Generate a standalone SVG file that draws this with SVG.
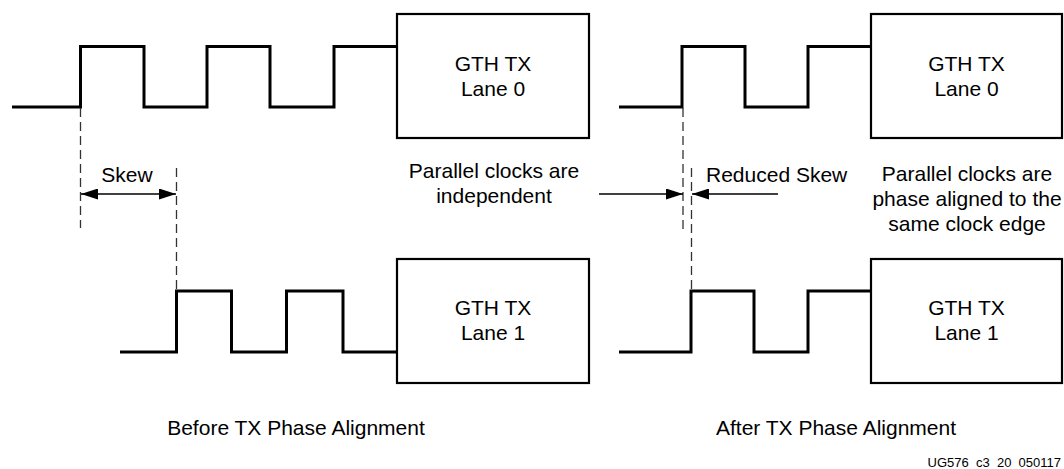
<svg xmlns="http://www.w3.org/2000/svg" width="1064" height="469" viewBox="0 0 1064 469">
<style>
  text { font-family: "Liberation Sans", Arial, sans-serif; font-size: 21px; fill: #000; }
  .c { text-anchor: middle; }
  .box { fill: #fff; stroke: #000; stroke-width: 2.2; }
  .wave { fill: none; stroke: #000; stroke-width: 3; stroke-linejoin: miter; stroke-linecap: butt; }
  .dash { fill: none; stroke: #333; stroke-width: 1.3; stroke-dasharray: 9 5; }
  .arr { fill: none; stroke: #000; stroke-width: 1.3; }
  .id { font-size: 13px; text-anchor: end; word-spacing: 3.6px; }
</style>
<defs>
  <marker id="ah" viewBox="0 0 17 11" refX="17" refY="5.5" markerWidth="17" markerHeight="11" markerUnits="userSpaceOnUse" orient="auto-start-reverse">
    <path d="M0,0 L17,5.5 L0,11 Z" fill="#000"/>
  </marker>
</defs>
<rect width="1064" height="469" fill="#fff"/>

<g id="connectors">
  <path class="wave" d="M12,107 H80.5 V46.5 H144 V107 H207 V46.5 H270 V107 H334 V46.5 H397"/>
  <path class="wave" d="M619,107 H682 V46.5 H745 V107 H808 V46.5 H871"/>
  <path class="wave" d="M120,352 H176.5 V291 H231.5 V352 H286.5 V291 H343 V352 H397"/>
  <path class="wave" d="M619,352 H691 V291 H754 V352 H808 V291 H871"/>
  <line class="dash" x1="80.5" y1="108" x2="80.5" y2="228"/>
  <line class="dash" x1="176.5" y1="168" x2="176.5" y2="290"/>
  <line class="dash" x1="683" y1="108" x2="683" y2="230"/>
  <line class="dash" x1="691.5" y1="168" x2="691.5" y2="290"/>
  <line class="arr" x1="81" y1="194" x2="176" y2="194" marker-start="url(#ah)" marker-end="url(#ah)"/>
  <line class="arr" x1="599" y1="194" x2="683" y2="194" marker-end="url(#ah)"/>
  <line class="arr" x1="778" y1="194" x2="692" y2="194" marker-end="url(#ah)"/>
</g>

<g id="lane0-before">
  <rect class="box" x="397" y="14" width="192" height="124"/>
  <text class="c" x="493" y="71">GTH TX</text>
  <text class="c" x="493" y="96">Lane 0</text>
</g>
<g id="lane1-before">
  <rect class="box" x="397" y="259" width="192" height="124"/>
  <text class="c" x="493" y="315">GTH TX</text>
  <text class="c" x="493" y="340">Lane 1</text>
</g>
<g id="lane0-after">
  <rect class="box" x="871" y="14" width="191" height="124"/>
  <text class="c" x="966.5" y="71">GTH TX</text>
  <text class="c" x="966.5" y="96">Lane 0</text>
</g>
<g id="lane1-after">
  <rect class="box" x="871" y="259" width="191" height="124"/>
  <text class="c" x="966.5" y="315">GTH TX</text>
  <text class="c" x="966.5" y="340">Lane 1</text>
</g>

<g id="labels">
  <text class="c" x="127" y="182">Skew</text>
  <text x="706" y="182">Reduced Skew</text>
  <text class="c" x="494" y="178">Parallel clocks are</text>
  <text class="c" x="494" y="203">independent</text>
  <text class="c" x="967" y="181">Parallel clocks are</text>
  <text class="c" x="967" y="206">phase aligned to the</text>
  <text class="c" x="967" y="231">same clock edge</text>
  <text class="c" x="296" y="435">Before TX Phase Alignment</text>
  <text class="c" x="836" y="435">After TX Phase Alignment</text>
  <text class="id" x="1061" y="467">UG576 c3 20 050117</text>
</g>
</svg>
